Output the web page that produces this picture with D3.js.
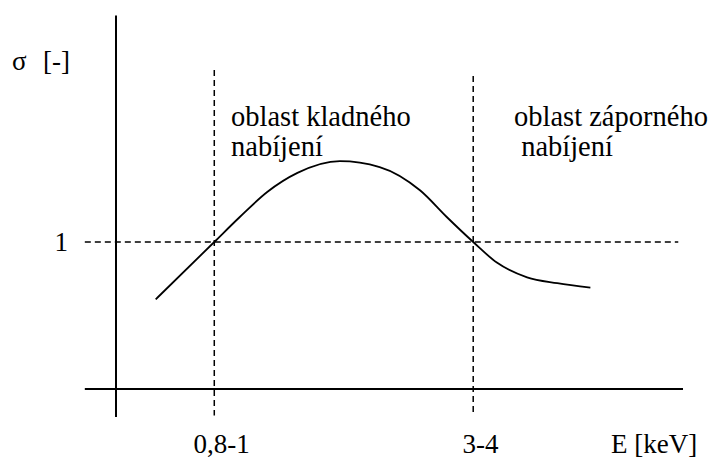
<!DOCTYPE html>
<html>
<head>
<meta charset="utf-8">
<script src="https://cdn.jsdelivr.net/npm/d3@7"></script>
<style>
    body { margin: 0; background: #fff; }
</style>
</head>
<body>
<div class="sigma-chart"></div>
<script>
// ------------------------------------------------------
const plotWidth = 715;
const plotHeight = 459;
// ------------------------------------------------------
// schematic curve sigma(E) (arbitrary units)
const energyValues = [ 0.42, 1.04, 1.31, 1.60, 1.92, 2.37, 2.79, 3.22, 3.50, 3.78, 4.03, 4.35, 4.67, 5.02 ];
const sigmaValues  = [ 0.61, 1.00, 1.17, 1.34, 1.47, 1.55, 1.51, 1.35, 1.17, 1.00, 0.86, 0.76, 0.72, 0.69 ];
// ------------------------------------------------------
const tickValues = [ 1.04, 3.78 ];
const tickLabels = [ '0,8-1', '3-4' ];
const sigmaTicks = [ 1 ];
const regionLabels = [
    [ 'oblast kladného', 'nabíjení' ],
    [ 'oblast záporného', '\u00a0nabíjení' ]
];
// ------------------------------------------------------
const originX = 116;
const originY = 389;
const fontSize = '27px';
const serif = "'Liberation Serif'";
// ------------------------------------------------------
window.addEventListener( 'load', function () {
    // --------------------------------------------------
    let x = d3.scaleLinear()
        .domain( [ 0, 6 ] )
        .range( [ originX, 683 ] );
    let y = d3.scaleLinear()
        .domain( [ 0, 1 ] )
        .range( [ originY, 242 ] );
    // --------------------------------------------------
    let plot = d3.select( '.sigma-chart' )
        .append( 'svg' )
        .attr( 'width', plotWidth )
        .attr( 'height', plotHeight );
    // --------------------------------------------------
    // dashed guides: sigma = 1 and the two crossover energies
    plot.append( 'line' )
        .attr( 'x1', x( -0.33 ) )
        .attr( 'x2', x( 5.95 ) )
        .attr( 'y1', y( 1 ) )
        .attr( 'y2', y( 1 ) )
        .attr( 'stroke', '#000' )
        .attr( 'stroke-width', 1.5 )
        .attr( 'stroke-dasharray', '6,4' );
    plot.selectAll( '.guide-v' )
        .data( tickValues )
        .enter()
        .append( 'line' )
        .classed( 'guide-v', true )
        .attr( 'x1', function ( d ) { return x( d ); } )
        .attr( 'x2', function ( d ) { return x( d ); } )
        .attr( 'y1', function ( d, i ) { return y( i === 0 ? 2.17 : 2.13 ); } )
        .attr( 'y2', y( -0.18 ) )
        .attr( 'stroke', '#000' )
        .attr( 'stroke-width', 1.5 )
        .attr( 'stroke-dasharray', '6,4' );
    // --------------------------------------------------
    // axes lines
    plot.append( 'line' )
        .attr( 'x1', x( 0 ) )
        .attr( 'x2', x( 0 ) )
        .attr( 'y1', y( 2.54 ) )
        .attr( 'y2', y( -0.19 ) )
        .attr( 'stroke', '#000' )
        .attr( 'stroke-width', 2 );
    plot.append( 'line' )
        .attr( 'x1', x( -0.33 ) )
        .attr( 'x2', x( 6 ) )
        .attr( 'y1', y( 0 ) )
        .attr( 'y2', y( 0 ) )
        .attr( 'stroke', '#000' )
        .attr( 'stroke-width', 2 );
    // --------------------------------------------------
    // tick labels through d3 axes (no tick marks, no domain)
    let xAxis = d3.axisBottom( x )
        .tickValues( tickValues )
        .tickSize( 0 )
        .tickPadding( 45 )
        .tickFormat( function ( d, i ) { return tickLabels[ i ]; } );
    let xAxisGroup = plot.append( 'g' )
        .attr( 'transform', 'translate(0,' + y( 0 ) + ')' )
        .call( xAxis );
    xAxisGroup.select( '.domain' ).remove();
    xAxisGroup.selectAll( 'text' )
        .attr( 'dx', '0.25em' );
    // --------------------------------------------------
    let yAxis = d3.axisLeft( y )
        .tickValues( sigmaTicks )
        .tickSize( 0 )
        .tickPadding( 48 )
        .tickFormat( d3.format( 'd' ) );
    let yAxisGroup = plot.append( 'g' )
        .attr( 'transform', 'translate(' + x( 0 ) + ',0)' )
        .call( yAxis );
    yAxisGroup.select( '.domain' ).remove();
    plot.selectAll( '.tick text' )
        .attr( 'fill', '#000' )
        .style( 'font-family', serif )
        .style( 'font-size', fontSize );
    // --------------------------------------------------
    // the curve
    let line = d3.line()
        .x( function ( d, i ) { return x( energyValues[ i ] ); } )
        .y( function ( d ) { return y( d ); } )
        .curve( d3.curveMonotoneX );
    plot.append( 'path' )
        .datum( sigmaValues )
        .attr( 'd', line )
        .attr( 'fill', 'none' )
        .attr( 'stroke', '#000' )
        .attr( 'stroke-width', 1.8 );
    // --------------------------------------------------
    // axis titles
    let addText = function ( tx, ty, t, size ) {
        return plot.append( 'text' )
            .attr( 'x', tx )
            .attr( 'y', ty )
            .attr( 'fill', '#000' )
            .style( 'font-family', serif )
            .style( 'font-size', size || fontSize )
            .text( t );
    };
    addText( 12, 70, 'σ' );
    addText( 43, 70, '[-]' );
    addText( 611, 453, 'E [keV]' );
    // --------------------------------------------------
    // region labels
    let regionX = [ 231, 514 ];
    regionLabels.forEach( function ( lines, i ) {
        lines.forEach( function ( t, j ) {
            addText( regionX[ i ], 126 + j * 30, t, '28.5px' );
        });
    });
}, false );
</script>
</body>
</html>
